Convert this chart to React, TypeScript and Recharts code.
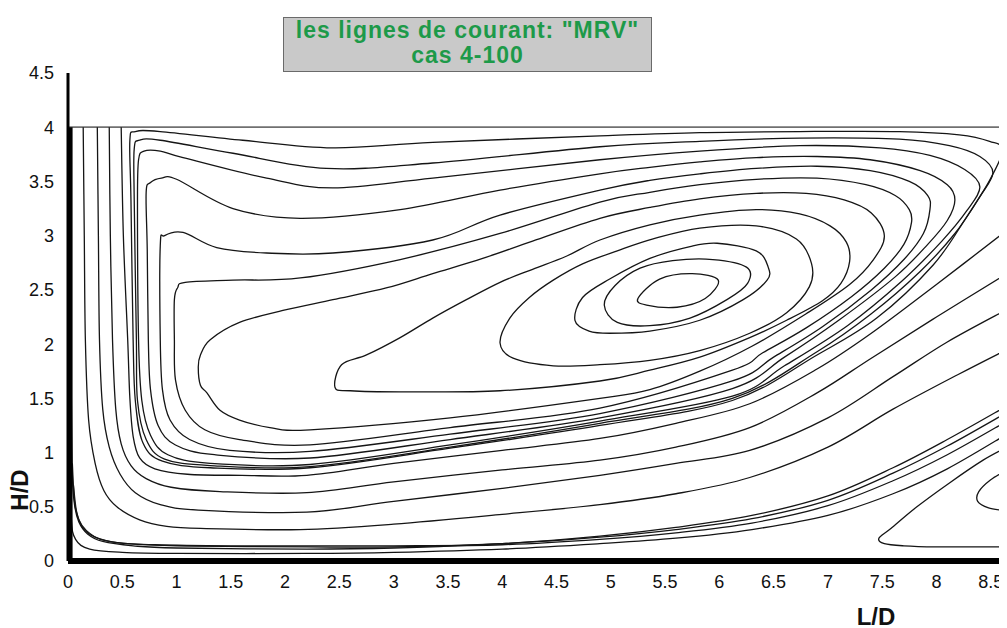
import React from "react";
import { LineChart, Line, XAxis, YAxis, ReferenceLine } from "recharts";

type P = [number, number];

const xTicks = [0, 0.5, 1, 1.5, 2, 2.5, 3, 3.5, 4, 4.5, 5, 5.5, 6, 6.5, 7, 7.5, 8, 8.5];
const yTicks = [0, 0.5, 1, 1.5, 2, 2.5, 3, 3.5, 4, 4.5];

const titleLine1 = 'les lignes de courant: "MRV"';
const titleLine2 = "cas 4-100";
const xLabel = "L/D";
const yLabel = "H/D";

// boundaries
const wallLeft: P[] = [[0.01, 0], [0.01, 4]];
const wallTop: P[] = [[0, 4], [8.65, 4]];

// main recirculation vortex (closed streamlines, inner to outer)
const loop1: P[] = [[5.25,2.42],[5.45,2.60],[5.75,2.65],[5.99,2.59],[5.87,2.42],[5.61,2.34],[5.33,2.36],[5.25,2.42]];
const loop2: P[] = [[4.94,2.36],[5.04,2.54],[5.27,2.70],[5.57,2.77],[5.94,2.78],[6.25,2.71],[6.26,2.56],[6.07,2.41],[5.73,2.24],[5.36,2.17],[5.06,2.20],[4.94,2.36]];
const loop3: P[] = [[4.67,2.22],[4.74,2.43],[4.99,2.60],[5.36,2.79],[5.73,2.90],[5.98,2.93],[6.34,2.86],[6.45,2.71],[6.44,2.59],[6.22,2.41],[5.82,2.22],[5.36,2.12],[4.99,2.10],[4.80,2.12],[4.67,2.22]];
const loop4: P[] = [[3.98,2.01],[4.07,2.24],[4.25,2.43],[4.47,2.59],[4.74,2.74],[5.06,2.86],[5.39,2.97],[5.82,3.07],[6.34,3.09],[6.71,2.97],[6.85,2.74],[6.83,2.53],[6.62,2.29],[6.28,2.10],[5.82,1.94],[5.36,1.85],[4.90,1.81],[4.47,1.80],[4.10,1.87],[3.98,2.01]];
const loop5: P[] = [[2.46,1.60],[2.52,1.81],[2.75,1.90],[3.06,2.06],[3.36,2.24],[3.67,2.41],[3.98,2.57],[4.28,2.69],[4.59,2.81],[4.90,2.96],[5.36,3.10],[5.82,3.19],[6.34,3.24],[6.74,3.20],[7.02,3.09],[7.17,2.94],[7.20,2.76],[7.12,2.56],[6.95,2.40],[6.62,2.22],[6.28,2.06],[5.82,1.88],[5.36,1.76],[4.90,1.66],[3.98,1.57],[3.06,1.56],[2.60,1.57],[2.46,1.60]];
const loop6: P[] = [[1.20,1.79],[1.22,1.90],[1.31,2.04],[1.58,2.20],[1.98,2.31],[2.44,2.41],[2.94,2.52],[3.36,2.65],[3.82,2.79],[4.28,2.95],[4.90,3.16],[5.36,3.26],[5.82,3.34],[6.34,3.39],[6.80,3.39],[7.15,3.33],[7.40,3.21],[7.52,3.00],[7.42,2.78],[7.20,2.55],[6.80,2.28],[6.30,1.98],[5.82,1.75],[5.36,1.58],[4.90,1.50],[3.52,1.32],[2.23,1.21],[1.86,1.23],[1.58,1.30],[1.40,1.39],[1.28,1.55],[1.22,1.62],[1.20,1.79]];
const loop7: P[] = [[0.98,2.41],[1.01,2.52],[1.08,2.57],[1.52,2.59],[2.14,2.61],[3.06,2.78],[3.98,3.02],[4.90,3.31],[5.36,3.40],[5.82,3.47],[6.34,3.52],[6.90,3.53],[7.35,3.47],[7.62,3.37],[7.75,3.24],[7.77,3.12],[7.70,2.92],[7.52,2.70],[7.22,2.44],[6.80,2.15],[6.40,1.92],[6.12,1.76],[4.90,1.41],[3.52,1.23],[2.23,1.07],[1.58,1.12],[1.26,1.21],[1.08,1.39],[0.99,1.67],[0.98,2.04],[0.98,2.41]];
const loop8: P[] = [[0.85,2.91],[0.89,3.00],[1.06,3.03],[1.37,2.89],[1.83,2.84],[2.44,2.84],[3.36,2.96],[3.98,3.19],[4.90,3.42],[5.36,3.51],[5.82,3.57],[6.34,3.62],[6.90,3.64],[7.39,3.60],[7.75,3.50],[7.92,3.37],[7.94,3.24],[7.88,3.02],[7.70,2.78],[7.40,2.50],[6.95,2.16],[6.50,1.88],[6.12,1.66],[4.90,1.36],[3.52,1.17],[2.23,1.01],[1.49,1.02],[1.12,1.12],[0.94,1.30],[0.87,1.58],[0.85,2.04],[0.85,2.91]];
const loop9: P[] = [[0.72,3.40],[0.76,3.49],[0.86,3.53],[1.00,3.52],[1.52,3.25],[2.14,3.16],[3.06,3.24],[3.98,3.42],[4.90,3.57],[5.36,3.63],[5.82,3.68],[6.34,3.72],[6.90,3.73],[7.39,3.70],[7.85,3.60],[8.10,3.47],[8.17,3.33],[8.10,3.14],[7.92,2.92],[7.62,2.62],[7.10,2.22],[6.60,1.88],[6.12,1.59],[4.90,1.32],[3.52,1.12],[2.23,0.95],[1.35,0.98],[0.99,1.07],[0.83,1.25],[0.76,1.58],[0.74,2.04],[0.73,2.87],[0.72,3.40]];
const loop10: P[] = [[0.85,3.78],[1.06,3.72],[1.83,3.53],[2.44,3.44],[3.36,3.53],[4.90,3.70],[5.82,3.78],[6.74,3.83],[7.48,3.81],[7.94,3.74],[8.26,3.61],[8.40,3.45],[8.28,3.23],[8.05,2.95],[7.68,2.58],[7.18,2.17],[6.60,1.80],[6.12,1.52],[4.90,1.29],[3.52,1.07],[2.23,0.89],[1.31,0.90],[0.92,0.98],[0.76,1.16],[0.68,1.48],[0.65,2.04],[0.64,3.33],[0.65,3.70],[0.70,3.78],[0.85,3.78]];
const loop11: P[] = [[0.85,3.88],[1.52,3.76],[2.38,3.62],[3.36,3.67],[4.90,3.82],[5.82,3.87],[6.74,3.90],[7.66,3.89],[8.12,3.83],[8.40,3.73],[8.52,3.58],[8.40,3.36],[8.17,3.02],[7.85,2.67],[7.40,2.28],[6.90,1.93],[6.12,1.50],[4.90,1.27],[3.52,1.05],[2.23,0.87],[1.31,0.88],[0.89,0.94],[0.72,1.12],[0.64,1.48],[0.63,2.04],[0.61,3.33],[0.61,3.80],[0.66,3.88],[0.85,3.88]];
const loop12: P[] = [[0.85,3.96],[1.61,3.88],[2.44,3.81],[3.36,3.86],[4.90,3.92],[5.82,3.95],[6.74,3.96],[7.66,3.96],[8.21,3.93],[8.49,3.87],[8.61,3.79],[8.49,3.51],[8.27,3.16],[7.97,2.73],[7.45,2.24],[6.90,1.90],[6.12,1.48],[4.90,1.25],[3.52,1.04],[2.23,0.86],[1.31,0.86],[0.87,0.92],[0.69,1.09],[0.62,1.48],[0.60,2.04],[0.58,3.33],[0.57,3.88],[0.62,3.96],[0.85,3.96]];

// through-flow streamlines entering at the top, leaving at the right
const through1: P[] = [[0.14,4.0],[0.15,3.0],[0.16,2.04],[0.19,1.3],[0.25,0.9],[0.33,0.65],[0.45,0.5],[0.66,0.38],[0.91,0.32],[1.22,0.30],[2.14,0.29],[3.0,0.34],[4.0,0.43],[4.9,0.52],[5.6,0.62],[6.28,0.77],[7.0,1.05],[7.6,1.4],[8.2,1.72],[8.65,1.95]];
const through2: P[] = [[0.27,4.0],[0.28,3.0],[0.29,2.04],[0.32,1.4],[0.38,1.05],[0.48,0.8],[0.62,0.63],[0.85,0.52],[1.2,0.47],[2.2,0.45],[3.0,0.55],[4.0,0.67],[4.9,0.79],[5.6,0.9],[6.28,1.02],[7.0,1.32],[7.6,1.7],[8.1,2.02],[8.65,2.32]];
const through3: P[] = [[0.38,4.0],[0.39,3.0],[0.41,2.04],[0.44,1.4],[0.49,1.08],[0.58,0.88],[0.72,0.76],[0.95,0.68],[1.4,0.64],[2.2,0.63],[3.0,0.73],[4.0,0.84],[4.9,0.93],[5.6,1.05],[6.28,1.23],[6.9,1.55],[7.4,1.87],[8.0,2.25],[8.65,2.65]];
const through4: P[] = [[0.49,4.0],[0.51,3.0],[0.55,2.04],[0.57,1.5],[0.6,1.15],[0.66,0.95],[0.8,0.85],[1.1,0.8],[1.6,0.79],[2.2,0.79],[3.0,0.9],[4.0,1.02],[4.9,1.13],[5.6,1.27],[6.28,1.45],[6.9,1.77],[7.4,2.1],[8.0,2.55],[8.65,3.05]];

// wall streamlines along the bottom
const bottom1: P[] = [[0.03,1.6],[0.04,0.8],[0.06,0.52],[0.1,0.36],[0.18,0.25],[0.32,0.18],[0.6,0.14],[1.0,0.12],[2.2,0.11],[3.0,0.12],[4.0,0.16],[4.9,0.23],[5.6,0.31],[6.3,0.42],[7.0,0.6],[7.6,0.86],[8.1,1.12],[8.65,1.43]];
const bottom2: P[] = [[0.04,0.9],[0.06,0.55],[0.1,0.38],[0.17,0.28],[0.3,0.2],[0.55,0.16],[1.0,0.14],[2.2,0.13],[3.0,0.13],[4.0,0.16],[4.9,0.22],[5.6,0.29],[6.3,0.39],[7.0,0.56],[7.6,0.81],[8.1,1.06],[8.65,1.37]];
const bottom3: P[] = [[0.05,0.7],[0.08,0.45],[0.14,0.3],[0.25,0.22],[0.45,0.17],[0.8,0.15],[1.5,0.14],[2.2,0.14],[3.0,0.14],[4.0,0.15],[4.9,0.2],[5.6,0.26],[6.3,0.35],[7.0,0.51],[7.6,0.74],[8.1,0.98],[8.65,1.29]];
const bottom4: P[] = [[0.02,1.0],[0.03,0.4],[0.07,0.2],[0.2,0.11],[0.5,0.08],[1.0,0.07],[2.2,0.07],[3.0,0.08],[4.0,0.11],[4.9,0.16],[5.6,0.21],[6.3,0.29],[7.0,0.42],[7.6,0.62],[8.1,0.85],[8.65,1.17]];

// secondary vortex, bottom right
const corner1: P[] = [[8.65,1.05],[8.43,0.93],[8.12,0.72],[7.82,0.50],[7.58,0.30],[7.47,0.21],[7.52,0.16],[7.70,0.14],[8.0,0.13],[8.35,0.13],[8.65,0.13]];
const corner2: P[] = [[8.65,0.84],[8.50,0.75],[8.39,0.64],[8.38,0.55],[8.48,0.49],[8.65,0.46]];

const streamlines: P[][] = [
  loop1, loop2, loop3, loop4, loop5, loop6, loop7, loop8, loop9, loop10, loop11, loop12,
  through1, through2, through3, through4,
  bottom1, bottom2, bottom3, bottom4,
  corner1, corner2,
];

const toPts = (a: P[]) => a.map(([x, y]) => ({ x, y }));

// Catmull-Rom style smooth curve (passes through every point), used as the Line curve type
function smoothCurve(context: any) {
  let pts: number[][] = [];
  return {
    areaStart() {},
    areaEnd() {},
    lineStart() {
      pts = [];
    },
    point(x: number, y: number) {
      pts.push([+x, +y]);
    },
    lineEnd() {
      const n = pts.length;
      if (!n) return;
      context.moveTo(pts[0][0], pts[0][1]);
      if (n === 1) return;
      if (n === 2) {
        context.lineTo(pts[1][0], pts[1][1]);
        return;
      }
      const closed =
        Math.abs(pts[0][0] - pts[n - 1][0]) < 0.01 && Math.abs(pts[0][1] - pts[n - 1][1]) < 0.01;
      const t = 1 / 6;
      for (let i = 0; i < n - 1; i++) {
        const p0 = i > 0 ? pts[i - 1] : closed ? pts[n - 2] : pts[i];
        const p1 = pts[i];
        const p2 = pts[i + 1];
        const p3 = i + 2 < n ? pts[i + 2] : closed ? pts[1] : p2;
        context.bezierCurveTo(
          p1[0] + (p2[0] - p0[0]) * t,
          p1[1] + (p2[1] - p0[1]) * t,
          p2[0] - (p3[0] - p1[0]) * t,
          p2[1] - (p3[1] - p1[1]) * t,
          p2[0],
          p2[1]
        );
      }
    },
  };
}

const FONT = '"Liberation Sans", Arial, Helvetica, sans-serif';

export default function App() {
  return (
    <div style={{ position: "relative", width: 999, height: 620, fontFamily: FONT }}>
      <LineChart
        width={999}
        height={620}
        margin={{ top: 65, right: 0, bottom: 37, left: 10 }}
      >
        <XAxis
          type="number"
          dataKey="x"
          domain={[0, 8.65]}
          ticks={xTicks}
          allowDataOverflow
          height={30}
          tickLine={false}
          tickSize={0}
          tickMargin={14}
          axisLine={{ stroke: "#000", strokeWidth: 6 }}
          tick={{ fill: "#111", fontSize: 18, fontFamily: FONT }}
        />
        <YAxis
          type="number"
          dataKey="y"
          domain={[0, 4.5]}
          ticks={yTicks}
          allowDataOverflow
          width={50}
          tickLine={false}
          tickSize={0}
          tickMargin={14}
          axisLine={{ stroke: "#000", strokeWidth: 3 }}
          tick={{ fill: "#111", fontSize: 18, fontFamily: FONT }}
        />
        <ReferenceLine y={0} stroke="#9a9a9a" strokeWidth={2} strokeDasharray="14 3" />
        <Line
          data={toPts(wallTop)}
          dataKey="y"
          type="linear"
          stroke="#707070"
          strokeWidth={1.8}
          dot={false}
          activeDot={false}
          isAnimationActive={false}
        />
        {streamlines.map((s, i) => (
          <Line
            key={i}
            data={toPts(s)}
            dataKey="y"
            type={smoothCurve as any}
            stroke="#151515"
            strokeWidth={1.3}
            dot={false}
            activeDot={false}
            isAnimationActive={false}
          />
        ))}
        <Line
          data={toPts(wallLeft)}
          dataKey="y"
          type="linear"
          stroke="#000"
          strokeWidth={7}
          dot={false}
          activeDot={false}
          isAnimationActive={false}
        />
      </LineChart>

      <div
        style={{
          position: "absolute",
          left: 275,
          top: 9,
          width: 367,
          height: 53,
          background: "#c9c9c9",
          border: "1px solid #6a6a6a",
          color: "#1d9a49",
          fontWeight: "bold",
          fontSize: 23,
          lineHeight: "25px",
          letterSpacing: 1,
          textAlign: "center",
          fontFamily: FONT,
        }}
      >
        <div>{titleLine1}</div>
        <div>{titleLine2}</div>
      </div>

      <div
        style={{
          position: "absolute",
          left: 828,
          top: 597,
          width: 80,
          height: 24,
          lineHeight: "24px",
          fontSize: 24,
          fontWeight: "bold",
          textAlign: "center",
          color: "#111",
          fontFamily: FONT,
        }}
      >
        {xLabel}
      </div>

      <div
        style={{
          position: "absolute",
          left: -28,
          top: 470,
          width: 80,
          height: 24,
          lineHeight: "24px",
          fontSize: 24,
          fontWeight: "bold",
          textAlign: "center",
          color: "#111",
          fontFamily: FONT,
          transform: "rotate(-90deg)",
        }}
      >
        {yLabel}
      </div>
    </div>
  );
}
